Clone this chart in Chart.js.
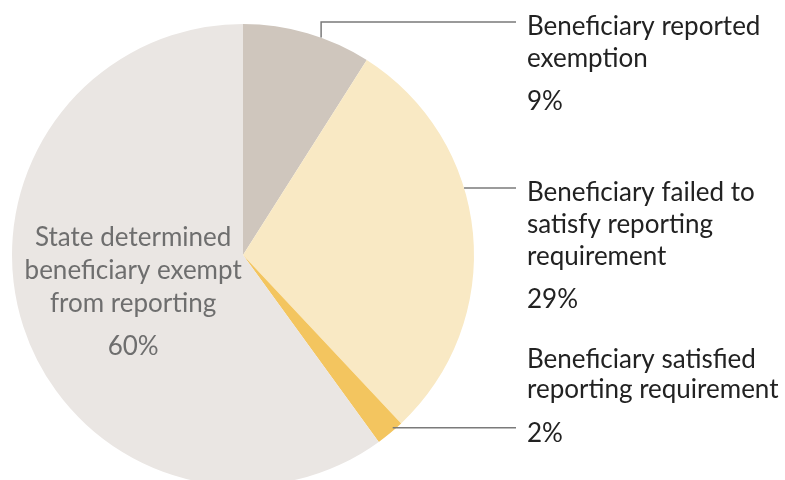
<!DOCTYPE html>
<html>
<head>
<meta charset="utf-8">
<script src="https://cdn.jsdelivr.net/npm/chart.js@4/dist/chart.umd.min.js"></script>
<style>
  html, body { margin: 0; padding: 0; background: #fff; overflow: hidden; }
  #wrap { width: 785px; height: 480px; overflow: hidden; }
</style>
</head>
<body>
<div id="wrap"><canvas id="pie" width="785" height="510"></canvas></div>
<script>
// Reporting outcome shares, clockwise from 12 o'clock
const categories = [
    ["Beneficiary reported", "exemption"],
    ["Beneficiary failed to", "satisfy reporting", "requirement"],
    ["Beneficiary satisfied", "reporting requirement"],
    ["State determined", "beneficiary exempt", "from reporting"],
];
const shares = [9, 29, 2, 60];
const sliceColors = ["#cfc6bd", "#f9e9c4", "#f3c55f", "#eae6e3"];

const FONT = "26px Lato, 'Open Sans', sans-serif";
const LINE_H = 32;

// where each callout line touches its slice: fraction across the slice, fraction of radius
const callouts = [
    { idx: 0, t: 0.61, r: 1.0, elbowY: 22 },
    { idx: 1, t: 0.39, r: 1.0 },
    { idx: 2, t: 0.32, r: 0.99, pctOnLine: true },
];

function pointOn(arc, t, rf) {
    const a = arc.startAngle + (arc.endAngle - arc.startAngle) * t;
    const r = arc.outerRadius * rf;
    return { x: arc.x + Math.cos(a) * r, y: arc.y + Math.sin(a) * r };
}

const calloutPlugin = {
    id: "callouts",
    afterDraw(chart) {
        const ctx = chart.ctx;
        const arcs = chart.getDatasetMeta(0).data;
        const lineEnd = 516, textX = 527;

        ctx.save();
        ctx.strokeStyle = "#7a7a7a";
        ctx.lineWidth = 1.5;
        ctx.textBaseline = "alphabetic";
        ctx.textAlign = "left";
        ctx.font = FONT;

        callouts.forEach(c => {
            const p = pointOn(arcs[c.idx], c.t, c.r);
            const y = c.elbowY !== undefined ? c.elbowY : p.y;
            ctx.beginPath();
            ctx.moveTo(p.x, p.y);
            if (c.elbowY !== undefined) ctx.lineTo(p.x, y);
            ctx.lineTo(lineEnd, y);
            ctx.stroke();

            const lines = categories[c.idx];
            const pct = shares[c.idx] + "%";
            ctx.fillStyle = "#222";
            if (c.pctOnLine) {
                // percentage sits on the line, name above it
                const base = y + 14;
                lines.forEach((s, i) => {
                    ctx.fillText(s, textX, base - 44 - (lines.length - 1 - i) * 30);
                });
                ctx.fillText(pct, textX, base);
            } else {
                const base = y + 13;
                lines.forEach((s, i) => ctx.fillText(s, textX, base + i * LINE_H));
                ctx.fillText(pct, textX, base + (lines.length - 1) * LINE_H + 43);
            }
        });

        // label inside the large slice
        const big = arcs[3];
        const mid = (big.startAngle + big.endAngle) / 2;
        const cx = big.x + Math.cos(mid) * big.outerRadius * 0.5;
        const cy = big.y + Math.sin(mid) * big.outerRadius * 0.5;
        ctx.fillStyle = "#6e6e6e";
        ctx.textAlign = "center";
        const inner = categories[3];
        const top = cy - 45;
        inner.forEach((s, i) => ctx.fillText(s, cx, top + i * 33));
        ctx.fillText(shares[3] + "%", cx, top + 2 * 33 + 43);
        ctx.restore();
    }
};

new Chart(document.getElementById("pie"), {
    type: "pie",
    data: {
        labels: categories.map(c => c.join(" ")),
        datasets: [{
            data: shares,
            backgroundColor: sliceColors,
            borderWidth: 0,
        }]
    },
    options: {
        responsive: false,
        animation: false,
        layout: { padding: { left: 12, right: 311, top: 24, bottom: 24 } },
        plugins: {
            legend: { display: false },
            tooltip: { enabled: false },
        },
    },
    plugins: [calloutPlugin],
});
</script>
</body>
</html>
